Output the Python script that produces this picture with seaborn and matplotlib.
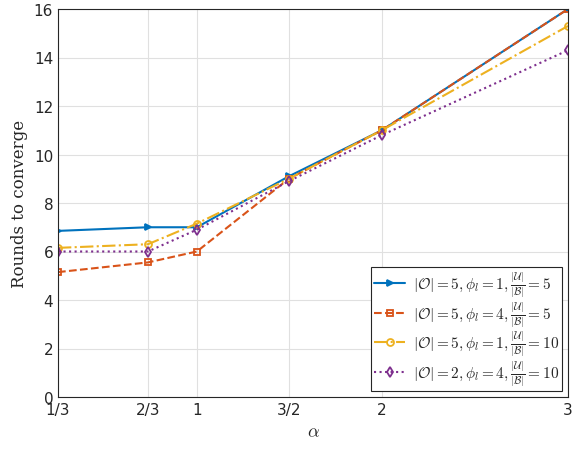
import numpy as np
import matplotlib
matplotlib.use("Agg")
import matplotlib.pyplot as plt
import seaborn as sns

# tick labels and their positions along the axis (as in the reference)
alpha_labels = ['1/3', '2/3', '1', '3/2', '2', '3']
alpha_pos = [0.0, 0.529, 0.817, 1.358, 1.905, 3.0]

blue = [6.85, 7.0, 7.0, 9.1, 11.0, 16.0]
red = [5.15, 5.55, 6.0, 9.0, 11.0, 16.0]
yellow = [6.15, 6.3, 7.15, 9.0, 11.0, 15.3]
purple = [6.0, 6.0, 6.9, 8.9, 10.8, 14.3]

labels = [r'$|\mathcal{O}|=5, \phi_l=1, \frac{|\mathcal{U}|}{|\mathcal{B}|}=5$',
          r'$|\mathcal{O}|=5, \phi_l=4, \frac{|\mathcal{U}|}{|\mathcal{B}|}=5$',
          r'$|\mathcal{O}|=5, \phi_l=1, \frac{|\mathcal{U}|}{|\mathcal{B}|}=10$',
          r'$|\mathcal{O}|=2, \phi_l=4, \frac{|\mathcal{U}|}{|\mathcal{B}|}=10$']

sns.set_style("whitegrid")
plt.rcParams['mathtext.fontset'] = 'cm'
plt.rcParams['font.family'] = ['DejaVu Sans']

fig = plt.figure(figsize=(5.85, 4.56), dpi=100)
ax = fig.add_axes([58/585, 58/456, 510/585, 388/456])

styles = [
    (blue, '#0072BD', '-', '>', 'full'),
    (red, '#D95319', '--', 's', 'none'),
    (yellow, '#EDB120', '-.', 'o', 'none'),
    (purple, '#7E2F8E', ':', 'd', 'none'),
]
for (ys, c, ls, m, fill), lab in zip(styles, labels):
    sns.lineplot(x=alpha_pos, y=ys, ax=ax, color=c, linestyle=ls, marker=m,
                 markersize=5, fillstyle=fill, markeredgewidth=1.3,
                 markerfacecolor=c if fill == 'full' else 'none',
                 markeredgecolor=c, linewidth=1.5, label=lab)

ax.set_xlim(0, 3)
ax.set_ylim(0, 16)
ax.set_xticks(alpha_pos)
ax.set_xticklabels(alpha_labels)
ax.set_yticks(range(0, 17, 2))
ax.tick_params(labelsize=11, colors='#262626', length=0)
ax.grid(True, color='#e0e0e0', linewidth=0.8)
for s in ax.spines.values():
    s.set_color('#262626')
    s.set_linewidth(0.8)
ax.set_xlabel(r'$\alpha$', fontsize=13)
ax.set_ylabel('Rounds to converge', fontsize=12, family='serif')
leg = ax.legend(loc='lower right', fontsize=11, frameon=True, fancybox=False,
                edgecolor='#262626', handlelength=2.0, borderpad=0.2,
                labelspacing=0.05, handletextpad=0.5, framealpha=1,
                borderaxespad=0.4)
leg.get_frame().set_linewidth(0.8)

fig.savefig('out.png', dpi=100)
